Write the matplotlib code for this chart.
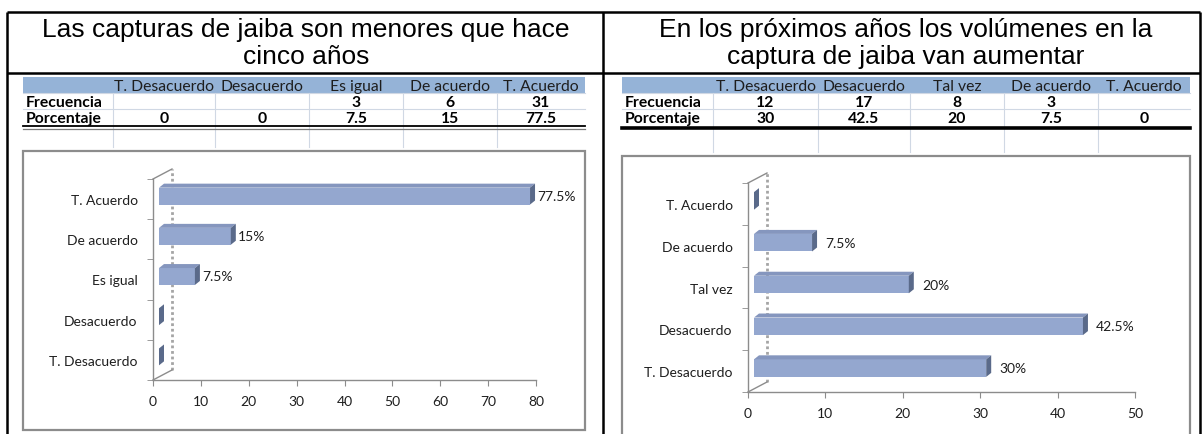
import matplotlib
matplotlib.use("Agg")
import matplotlib.pyplot as plt
from matplotlib.patches import Rectangle, Polygon
from matplotlib.transforms import IdentityTransform, offset_copy

W, H = 1202, 435

# ---- data ----
left_title = ["Las capturas de jaiba son menores que hace", "cinco años"]
left_categories = ["T. Desacuerdo", "Desacuerdo", "Es igual", "De acuerdo", "T. Acuerdo"]
left_frecuencia = ["", "", "3", "6", "31"]
left_porcentaje = [0, 0, 7.5, 15, 77.5]
left_xticks = [0, 10, 20, 30, 40, 50, 60, 70, 80]

right_title = ["En los próximos años los volúmenes en la", "captura de jaiba van aumentar"]
right_categories = ["T. Desacuerdo", "Desacuerdo", "Tal vez", "De acuerdo", "T. Acuerdo"]
right_frecuencia = ["12", "17", "8", "3", ""]
right_porcentaje = [30, 42.5, 20, 7.5, 0]
right_xticks = [0, 10, 20, 30, 40, 50]

row_names = ["Frecuencia", "Porcentaje"]

# ---- style ----
HEADER_BLUE = "#95B3D7"
GRID = "#D0D8E4"
FRONT = "#94A7CF"
TOP = "#8596BE"
SIDE = "#5A6A8A"
AXIS_GRAY = "#8C8C8C"
TXT = "#1E1E1E"
SANS = ["Lato", "DejaVu Sans"]
TITLE_FONT = ["Liberation Sans", "DejaVu Sans"]
CHART_FS = 10
TABLE_FS = 11.3

fig = plt.figure(figsize=(W / 100, H / 100), dpi=100)
bg = fig.add_axes([0, 0, 1, 1], zorder=0)
bg.set_xlim(0, W)
bg.set_ylim(H, 0)
bg.axis("off")

# outer frame of the two panels
for x in (7, 603, 1200):
    bg.plot([x, x], [13, H], color="black", lw=1.8, solid_capstyle="butt")
for y in (13, 74):
    bg.plot([7, 1200], [y, y], color="black", lw=1.8, solid_capstyle="butt")

# titles
for cx, lines in ((306, left_title), (906, right_title)):
    for y, line in zip((30, 57), lines):
        bg.text(cx, y, line, ha="center", va="center", fontsize=19,
                family=TITLE_FONT, color="black")


def draw_table(edges, header, frec, porc, double_rule, rule_y, blank_bottom):
    x0, x1 = edges[0], edges[-1]
    bg.add_patch(Rectangle((x0, 78), x1 - x0, 16, color=HEADER_BLUE, lw=0))
    # light cell grid
    for xe in edges[1:-1]:
        bg.plot([xe, xe], [94, blank_bottom], color=GRID, lw=0.8)
    bg.plot([x0, x1], [110, 110], color=GRID, lw=0.8)
    bg.plot([x0, x1], [94, 94], color=GRID, lw=0.8)
    # header labels, clipped to their cells
    for i, name in enumerate(header):
        a, b = edges[i + 1], edges[i + 2]
        t = bg.text((a + b) / 2, 91, name, ha="center", va="baseline",
                    fontsize=TABLE_FS, family=SANS, color=TXT)
        clip = Rectangle((a, 78), b - a - 1, 16, transform=bg.transData)
        t.set_clip_path(clip)
    for y, name, vals in ((107, row_names[0], frec),
                          (123, row_names[1], [f"{v:g}" for v in porc])):
        bg.text(x0 + 3, y, name, ha="left", va="baseline", fontsize=TABLE_FS,
                family=SANS, weight="bold", color="black")
        for i, v in enumerate(vals):
            a, b = edges[i + 1], edges[i + 2]
            bg.text((a + b) / 2, y, v, ha="center", va="baseline",
                    fontsize=TABLE_FS, family=SANS, weight="bold", color="black")
    if double_rule:
        bg.plot([x0, x1], [rule_y, rule_y], color="black", lw=1.3)
        bg.plot([x0, x1], [rule_y + 3, rule_y + 3], color="#7A7A7A", lw=0.9)
    else:
        bg.plot([x0, x1], [rule_y, rule_y], color="black", lw=2.6)


draw_table([23, 113, 215, 309, 403, 497, 585], left_categories,
           left_frecuencia, left_porcentaje, True, 127, 148)
draw_table([622, 713, 818, 910, 1004, 1098, 1190], right_categories,
           right_frecuencia, right_porcentaje, False, 129, 153)

# chart boxes
bg.add_patch(Rectangle((23, 152), 562, 279, facecolor="white",
                       edgecolor=AXIS_GRAY, lw=1.6))
bg.add_patch(Rectangle((622, 157), 568, 290, facecolor="white",
                       edgecolor=AXIS_GRAY, lw=1.6))


def bar_chart(px, categories, values, ticks, label_pad):
    x0, x1, ytop, ybot = px
    ax = fig.add_axes([x0 / W, 1 - ybot / H, (x1 - x0) / W, (ybot - ytop) / H],
                      zorder=2)
    ax.patch.set_visible(False)
    n = len(categories)
    ys = list(range(n))
    ax.set_xlim(ticks[0], ticks[-1])
    ax.set_ylim(-0.5, n - 0.5)
    for s in ("top", "right"):
        ax.spines[s].set_visible(False)
    for s in ("left", "bottom"):
        ax.spines[s].set_color(AXIS_GRAY)
        ax.spines[s].set_linewidth(1.0)
    ax.set_xticks(ticks)
    ax.set_xticklabels([str(t) for t in ticks], family=SANS, fontsize=CHART_FS, color=TXT)
    ax.tick_params(axis="x", direction="out", length=4, color=AXIS_GRAY, pad=7)
    ax.set_yticks(ys)
    ax.set_yticklabels(categories, family=SANS, fontsize=CHART_FS, color=TXT)
    ax.tick_params(axis="y", which="major", length=0, pad=11)
    ax.set_yticks([y - 0.5 for y in range(n + 1)], minor=True)
    ax.tick_params(axis="y", which="minor", direction="out", length=4,
                   color=AXIS_GRAY)

    # depth of the back wall and of each bar, in pixels
    wall = (19, 10)
    front = (6, 3)
    depth = (5, 4)
    T = ax.transData
    fx0, fy0 = T.transform((ticks[0], -0.5))
    fx1, fy1 = T.transform((ticks[0], n - 0.5))
    ax.plot([fx0, fx0 + wall[0]], [fy0, fy0 + wall[1]], transform=IdentityTransform(),
            color=AXIS_GRAY, lw=1.0, clip_on=False)
    ax.plot([fx1, fx1 + wall[0]], [fy1, fy1 + wall[1]], transform=IdentityTransform(),
            color=AXIS_GRAY, lw=1.0, clip_on=False)
    ax.plot([fx0 + wall[0], fx1 + wall[0]], [fy0 + wall[1], fy1 + wall[1]],
            transform=IdentityTransform(), color="#A5A5A5", lw=2.0,
            linestyle=(0, (1, 1)), clip_on=False, zorder=1)

    h = 0.42
    shifted = offset_copy(T, fig=fig, x=front[0], y=front[1], units="dots")
    ax.barh(ys, values, height=h, left=0, color=FRONT, transform=shifted,
            clip_on=False, zorder=3)
    for y, v in zip(ys, values):
        xl, yb = T.transform((0, y - h / 2))
        xr, yt = T.transform((v, y + h / 2))
        xl += front[0]; xr += front[0]; yb += front[1]; yt += front[1]
        top = [(xl, yt), (xr, yt), (xr + depth[0], yt + depth[1]), (xl + depth[0], yt + depth[1])]
        side = [(xr, yb), (xr, yt), (xr + depth[0], yt + depth[1]), (xr + depth[0], yb + depth[1])]
        ax.add_patch(Polygon(top, closed=True, transform=IdentityTransform(),
                             facecolor=TOP, edgecolor="none", clip_on=False, zorder=3))
        ax.add_patch(Polygon(side, closed=True, transform=IdentityTransform(),
                             facecolor=SIDE, edgecolor="none", clip_on=False, zorder=3))
        if v > 0:
            ax.annotate(f"{v:g}%", xy=(v, y), xytext=(front[0] + depth[0] + label_pad, front[1]),
                        textcoords="offset pixels", ha="left", va="center",
                        fontsize=CHART_FS, family=SANS, color=TXT, annotation_clip=False)
    return ax


bar_chart((153, 536, 180, 381), left_categories, left_porcentaje, left_xticks, 2)
bar_chart((748, 1135, 184, 393), right_categories, right_porcentaje, right_xticks, 8)

fig.savefig("out.png", dpi=100)
